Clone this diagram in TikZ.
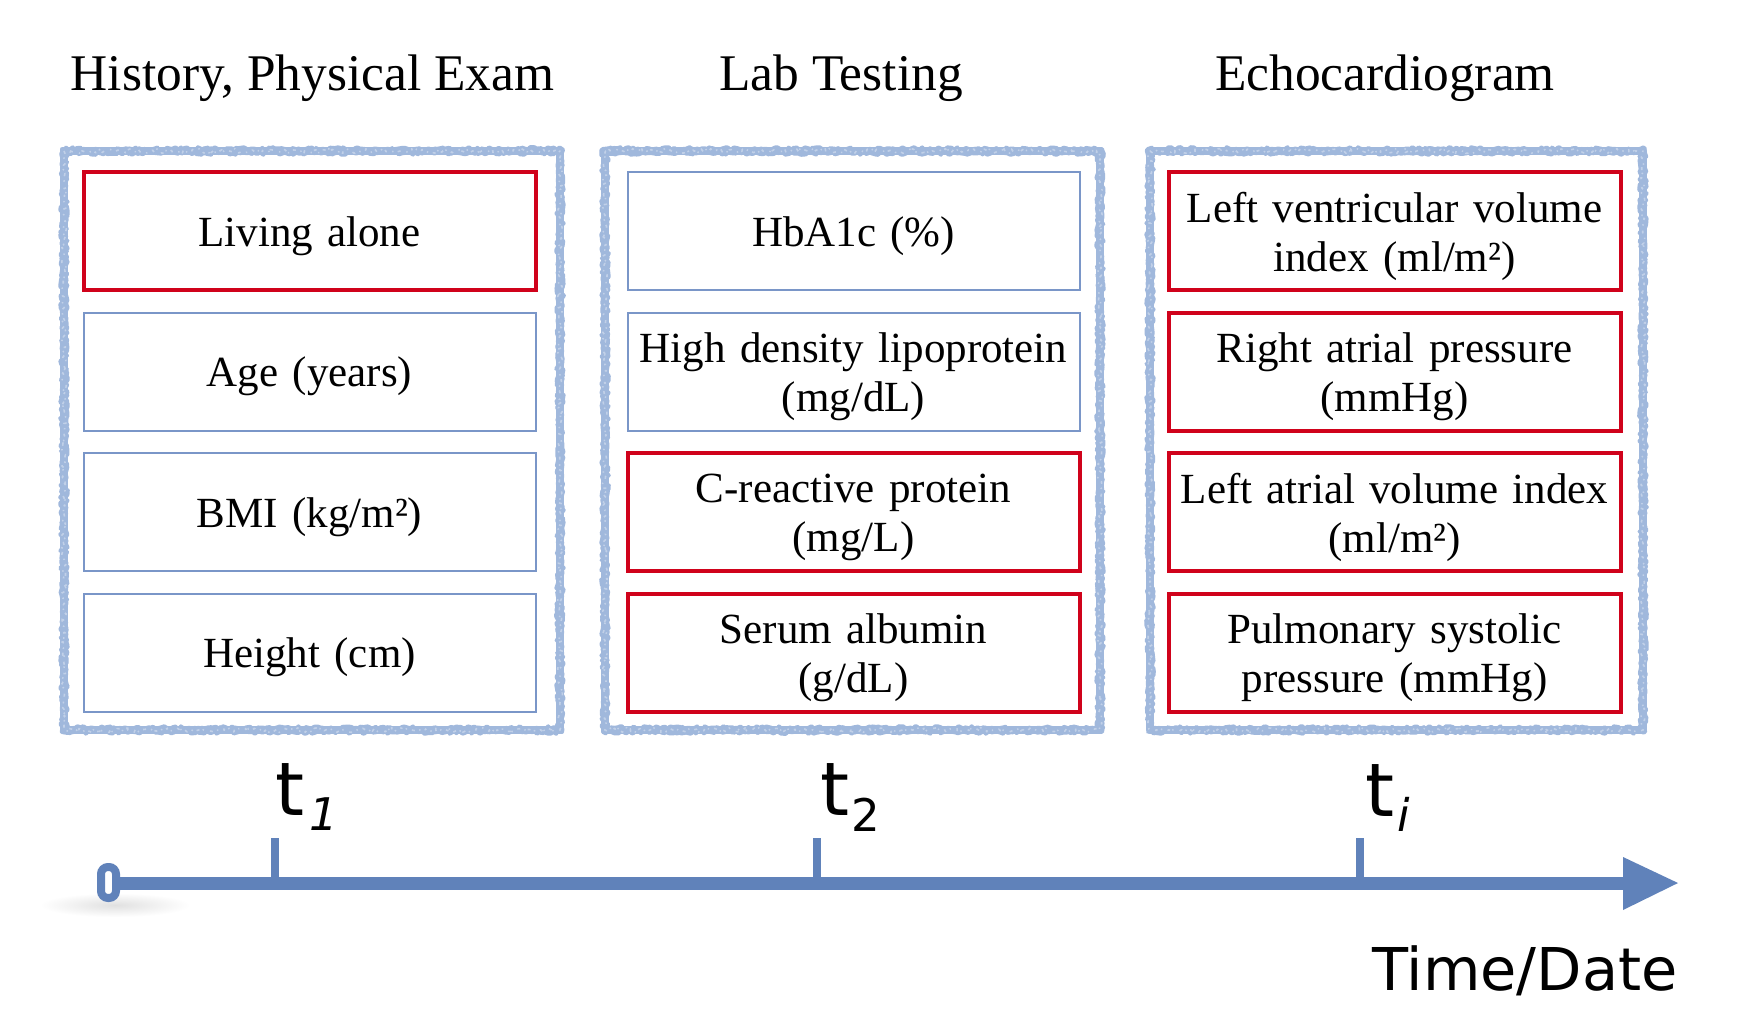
\documentclass[tikz,border=0pt]{standalone}
\usepackage{fontspec}
\setmainfont{Liberation Serif}
\newfontfamily\sansf{DejaVu Sans}
\usetikzlibrary{decorations.pathmorphing}
\definecolor{panelblue}{RGB}{160,184,220}
\definecolor{boxblue}{RGB}{122,150,200}
\definecolor{boxred}{RGB}{208,2,27}
\definecolor{lineblue}{RGB}{96,130,186}
\begin{document}
\begin{tikzpicture}[x=0.5pt,y=-0.5pt,
  itembox/.style={draw, minimum width=226pt, minimum height=59pt, inner sep=0pt},
  redbox/.style={itembox, draw=boxred, line width=2pt},
  bluebox/.style={itembox, draw=boxblue, line width=1pt},
  boxtext/.style={text width=224pt, align=center, inner sep=0pt,
    font=\fontsize{21.5}{24.5}\selectfont},
  panelbase/.style={draw=panelblue, line width=4pt, line join=round},
  panelrough/.style={draw=panelblue, line width=2pt, line join=round, decorate,
    decoration={random steps, segment length=1.2pt, amplitude=0.9pt}},
  panelspeck/.style={draw=white, opacity=0.35, line width=0.8pt, line join=round,
    dash pattern=on 1.5pt off 2.5pt on 0.7pt off 3.3pt, decorate,
    decoration={random steps, segment length=1pt, amplitude=1.2pt}},
  head/.style={anchor=base, inner sep=0pt, font=\fontsize{25.7}{30}\selectfont},
  tickline/.style={draw=lineblue, line width=4pt},
  tlab/.style={anchor=base west, inner sep=0pt, font=\sansf\fontsize{37}{40}\selectfont},
  sublab/.style={anchor=base west, inner sep=0pt, font=\sansf\fontsize{22.5}{24}\selectfont},
  axislab/.style={anchor=base east, inner sep=0pt, font=\sansf\fontsize{29.5}{32}\selectfont}]
\useasboundingbox (0,0) rectangle (1754,1033);
\path[fill=white] (0,0) rectangle (1754,1033);

% headings
\node[head] (h1) at (312.5,90) {History, Physical Exam};
\node[head] (h2) at (841,90) {Lab Testing};
\node[head] (h3) at (1385,90) {Echocardiogram};

% panels
\pgfmathsetseed{7}
\foreach \l/\r in {64/560, 605/1100, 1150/1643}{
  \draw[panelbase] (\l,151) rectangle (\r,730);
  \draw[panelrough] (\l-2,151-2) rectangle (\r+2,730+2);
  \draw[panelrough] (\l+2,151+2) rectangle (\r-2,730-2);
  \draw[panelspeck] (\l,151) rectangle (\r,730);
}

% column 1
\node[redbox]  (a1) at (309.5,231) {};
\node[bluebox] (a2) at (309.5,371.5) {};
\node[bluebox] (a3) at (309.5,512) {};
\node[bluebox] (a4) at (309.5,652.5) {};
% column 2
\node[bluebox] (b1) at (853.5,231) {};
\node[bluebox] (b2) at (853.5,371.5) {};
\node[redbox]  (b3) at (853.5,512) {};
\node[redbox]  (b4) at (853.5,652.5) {};
% column 3
\node[redbox] (c1) at (1394.5,231) {};
\node[redbox] (c2) at (1394.5,371.5) {};
\node[redbox] (c3) at (1394.5,512) {};
\node[redbox] (c4) at (1394.5,652.5) {};

% box texts
\node[boxtext] (a1t) at ([yshift=-2.5pt]a1.center) {Living alone};
\node[boxtext] (a2t) at ([yshift=-2.5pt]a2.center) {Age (years)};
\node[boxtext] (a3t) at ([yshift=-2.5pt]a3.center) {BMI (kg/m²)};
\node[boxtext] (a4t) at ([yshift=-2.5pt]a4.center) {Height (cm)};
\node[boxtext] (b1t) at ([yshift=-2.5pt]b1.center) {HbA1c (\%)};
\node[boxtext] (b2t) at ([yshift=-2.5pt]b2.center) {High density lipoprotein\\(mg/dL)};
\node[boxtext] (b3t) at ([yshift=-2.5pt]b3.center) {C-reactive protein\\(mg/L)};
\node[boxtext] (b4t) at ([yshift=-2.5pt]b4.center) {Serum albumin\\(g/dL)};
\node[boxtext] (c1t) at ([yshift=-2.5pt]c1.center) {Left ventricular volume\\index (ml/m²)};
\node[boxtext] (c2t) at ([yshift=-2.5pt]c2.center) {Right atrial pressure\\(mmHg)};
\node[boxtext] (c3t) at ([yshift=-2.5pt]c3.center) {Left atrial volume index\\(ml/m²)};
\node[boxtext] (c4t) at ([yshift=-2.5pt]c4.center) {Pulmonary systolic\\pressure (mmHg)};

% timeline
\shade[inner color=black!12, outer color=white] (115,905) ellipse (75 and 12);
\coordinate (tstart) at (116,883);
\coordinate (tend) at (1625,883);
\draw[lineblue, line width=6.5pt] (tstart) -- (tend);
\fill[lineblue] (1623,857) -- (1678,883) -- (1623,910) -- cycle;
\draw[lineblue, line width=4pt, rounded corners=3.5pt] (101,867) rectangle (116,898);

\foreach \x/\n in {275/k1, 817/k2, 1360/k3}{
  \coordinate (\n top) at (\x,838);
  \coordinate (\n bot) at (\x,881);
  \draw[tickline] (\n top) -- (\n bot);
}

\node[tlab] (t1) at (275,815) {t};
\node[sublab] (s1) at (309,830) {\itshape 1};
\node[tlab] (t2) at (820,815) {t};
\node[sublab] (s2) at (851,831) {2};
\node[tlab] (t3) at (1365,816) {t};
\node[sublab] (s3) at (1397,831) {\itshape i};

\node[axislab] (tl) at (1678,990) {Time/Date};
\end{tikzpicture}
\end{document}
